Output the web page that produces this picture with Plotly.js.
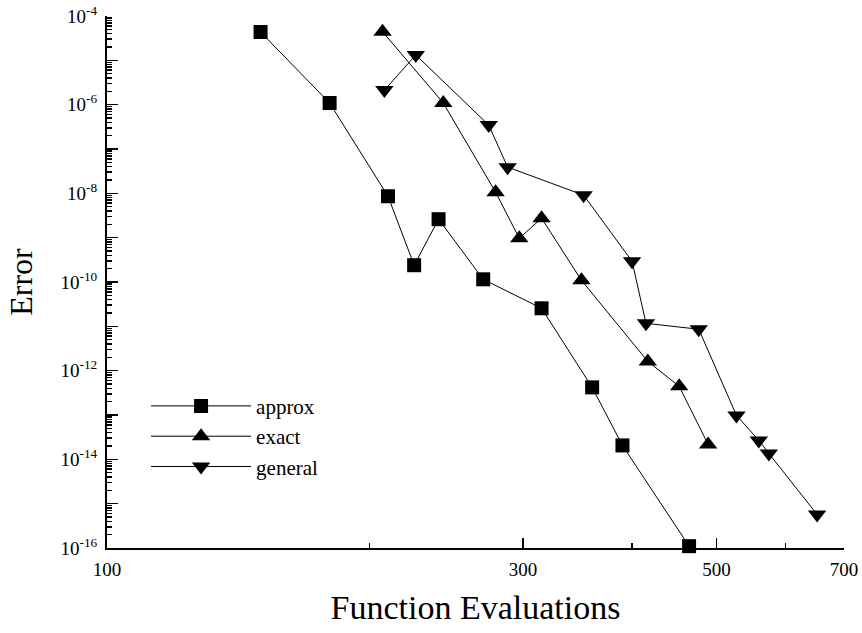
<!DOCTYPE html>
<html>
<head>
<meta charset="utf-8">
<script src="https://cdn.plot.ly/plotly-3.0.1.min.js"></script>
<style>html,body{margin:0;padding:0;background:#fff;}#chart{width:862px;height:633px;}</style>
</head>
<body>
<div id="chart"></div>
<script>
// Data
var approxX = [150, 180, 210, 225, 240, 270, 315, 360, 390, 465];
var approxY = [4.35e-5, 1.09e-6, 8.6e-9, 2.39e-10, 2.61e-9, 1.15e-10, 2.55e-11, 4.2e-13, 2.06e-14, 1.1e-16];

var exactX = [207, 243, 279, 297, 315, 350, 417, 453, 489];
var exactY = [4.42e-5, 1.09e-6, 1.06e-8, 9.7e-10, 2.75e-9, 1.09e-10, 1.62e-12, 4.43e-13, 2.17e-14];

var generalX = [208, 226, 274, 288, 352, 400, 415, 477, 527, 559, 574, 652];
var generalY = [2.13e-6, 1.32e-5, 3.46e-7, 3.9e-8, 9.1e-9, 2.94e-10, 1.17e-11, 8.6e-12, 9.8e-14, 2.67e-14, 1.36e-14, 5.7e-16];

var seriesNames = ['approx', 'exact', 'general'];

// Axis ticks
var xMajorVals = [100, 300, 500, 700];
var xMajorText = ['100', '300', '500', '700'];
var xMinorVals = [200, 400, 600];

var yLabelExponents = [-16, -14, -12, -10, -8, -6, -4];
var yOddExponents = [-15, -13, -11, -9, -7, -5];
var yMultipliers = [2, 3, 4, 5, 6, 7, 8, 9];

var yMajorVals = yLabelExponents.map(function (e) { return Math.pow(10, e); });
var yMajorText = yLabelExponents.map(function (e) { return '10<sup>' + e + '</sup>'; });
var yOddVals = yOddExponents.map(function (e) { return Math.pow(10, e); });
var yMinorVals = [];
for (var e = -16; e < -4; e++) {
  yMultipliers.forEach(function (m) { yMinorVals.push(m * Math.pow(10, e)); });
}

var serif = 'Liberation Serif, Times New Roman, serif';

function mk(x, y, name, symbol, size) {
  return {
    x: x, y: y, name: name, type: 'scatter', mode: 'lines+markers',
    line: {color: '#000', width: 1},
    marker: {symbol: symbol, size: size, color: '#000'},
    cliponaxis: false
  };
}

var traces = [
  mk(approxX, approxY, seriesNames[0], 'square', 14),
  mk(exactX, exactY, seriesNames[1], 'triangle-up', 16),
  mk(generalX, generalY, seriesNames[2], 'triangle-down', 16),
  {x: [], y: [], xaxis: 'x2', yaxis: 'y2', showlegend: false, type: 'scatter', mode: 'markers'},
  {x: [], y: [], xaxis: 'x', yaxis: 'y3', showlegend: false, type: 'scatter', mode: 'markers'}
];

var minorAxisY = {
  type: 'log', range: [-16, -4], overlaying: 'y', anchor: 'x', side: 'left',
  showline: false, showgrid: false, zeroline: false,
  ticks: 'inside', tickwidth: 1.5, tickcolor: '#000',
  tickmode: 'array', showticklabels: false
};

var layout = {
  width: 862, height: 633,
  margin: {l: 107, r: 18, t: 16, b: 85},
  paper_bgcolor: '#fff', plot_bgcolor: '#fff',
  font: {family: serif, color: '#000', size: 19},
  showlegend: true,
  legend: {
    x: 0.053, y: 0.305, xanchor: 'left', yanchor: 'top',
    font: {family: serif, size: 21, color: '#000'},
    itemwidth: 100, bgcolor: 'rgba(0,0,0,0)', borderwidth: 0
  },
  xaxis: {
    type: 'log', range: [2, Math.log10(700)],
    showline: true, linewidth: 2, linecolor: '#000', mirror: false,
    showgrid: false, zeroline: false,
    ticks: 'inside', ticklen: 10, tickwidth: 1.5, tickcolor: '#000',
    tickmode: 'array', tickvals: xMajorVals, ticktext: xMajorText,
    tickfont: {family: serif, size: 19, color: '#000'},
    ticklabelstandoff: 3,
    title: {text: 'Function Evaluations', font: {family: serif, size: 34, color: '#000'}, standoff: 16}
  },
  xaxis2: {
    type: 'log', range: [2, Math.log10(700)], overlaying: 'x', anchor: 'y', side: 'bottom',
    showline: false, showgrid: false, zeroline: false,
    ticks: 'inside', ticklen: 5, tickwidth: 1.5, tickcolor: '#000',
    tickmode: 'array', tickvals: xMinorVals, showticklabels: false
  },
  yaxis: {
    type: 'log', range: [-16, -4],
    showline: true, linewidth: 2, linecolor: '#000', mirror: false,
    showgrid: false, zeroline: false,
    ticks: 'inside', ticklen: 11, tickwidth: 1.5, tickcolor: '#000',
    tickmode: 'array', tickvals: yMajorVals, ticktext: yMajorText,
    tickfont: {family: serif, size: 19, color: '#000'},
    ticklabelstandoff: 4,
    title: {text: 'Error', font: {family: serif, size: 32, color: '#000'}, standoff: 18}
  },
  yaxis2: Object.assign({}, minorAxisY, {ticklen: 5, tickvals: yMinorVals}),
  yaxis3: Object.assign({}, minorAxisY, {ticklen: 11, tickvals: yOddVals})
};

Plotly.newPlot('chart', traces, layout, {staticPlot: true, displayModeBar: false});
</script>
</body>
</html>
